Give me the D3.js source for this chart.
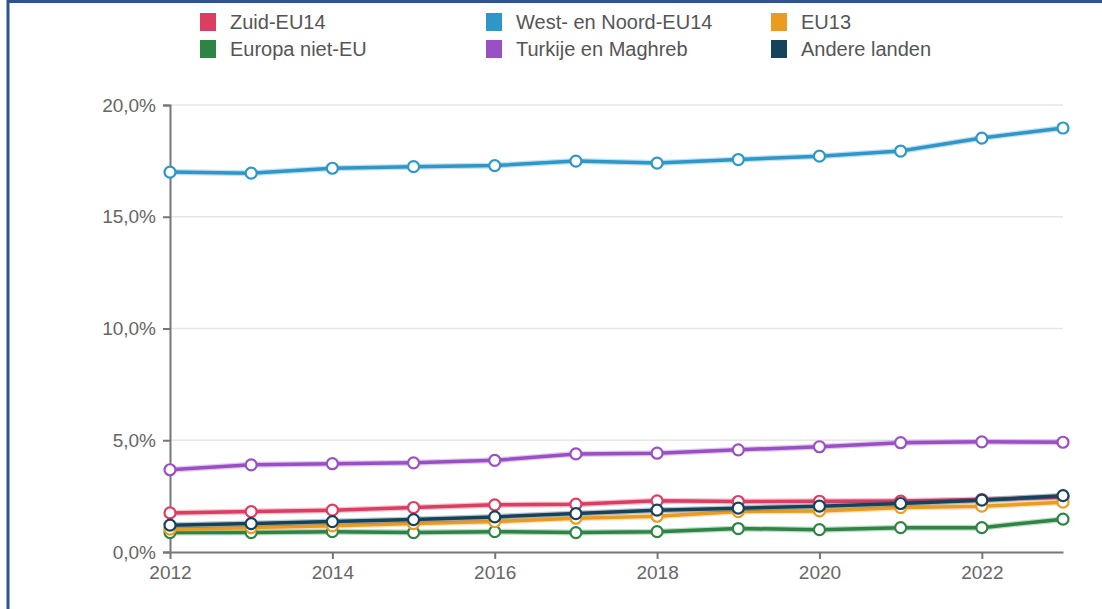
<!DOCTYPE html>
<html>
<head>
<meta charset="utf-8">
<script src="https://cdn.jsdelivr.net/npm/d3@7"></script>
<style>
  body { margin: 0; background: #fff; font-family: "Liberation Sans", Arial, sans-serif; }
  #chart { width: 1102px; height: 609px; overflow: hidden; }
</style>
</head>
<body>
<div id="chart"></div>
<script>
// data (percent)
const years = [2012, 2013, 2014, 2015, 2016, 2017, 2018, 2019, 2020, 2021, 2022, 2023]
const zuidEU14 = [1.75, 1.81, 1.87, 1.99, 2.11, 2.14, 2.29, 2.26, 2.27, 2.28, 2.35, 2.45]
const westNoordEU14 = [17.0, 16.95, 17.17, 17.24, 17.29, 17.49, 17.4, 17.56, 17.71, 17.94, 18.52, 18.97]
const eu13 = [1.02, 1.09, 1.17, 1.27, 1.36, 1.51, 1.6, 1.81, 1.84, 1.99, 2.05, 2.23]
const europaNietEU = [0.87, 0.87, 0.91, 0.87, 0.91, 0.87, 0.91, 1.05, 1.0, 1.09, 1.09, 1.47]
const turkijeMaghreb = [3.68, 3.9, 3.95, 3.99, 4.1, 4.39, 4.42, 4.57, 4.71, 4.89, 4.93, 4.91]
const andereLanden = [1.2, 1.27, 1.36, 1.45, 1.57, 1.72, 1.87, 1.96, 2.05, 2.17, 2.32, 2.52]
const yTicks = [0, 5, 10, 15, 20]
const xTicks = [2012, 2014, 2016, 2018, 2020, 2022]

const series = [
    { name: 'Zuid-EU14', values: zuidEU14, color: '#dc3d63' },
    { name: 'West- en Noord-EU14', values: westNoordEU14, color: '#2f97c7' },
    { name: 'EU13', values: eu13, color: '#eb9b20' },
    { name: 'Europa niet-EU', values: europaNietEU, color: '#2e8444' },
    { name: 'Turkije en Maghreb', values: turkijeMaghreb, color: '#9a50c5' },
    { name: 'Andere landen', values: andereLanden, color: '#16435c' }
]
// drawing order (last on top)
const drawOrder = ['Europa niet-EU', 'Zuid-EU14', 'EU13', 'Andere landen', 'Turkije en Maghreb', 'West- en Noord-EU14']

const width = 1102, height = 609
const margin = { top: 105, right: 39, bottom: 57, left: 170 }
const innerW = width - margin.left - margin.right,
    innerH = height - margin.top - margin.bottom

const svg = d3.select('#chart')
    .append('svg')
    .attr('width', width)
    .attr('height', height)

// frame round the chart (cut off right and bottom)
svg.append('rect')
    .attr('x', 8).attr('y', 1.5)
    .attr('width', 1200).attr('height', 700)
    .attr('fill', 'none')
    .attr('stroke', '#2c5491')
    .attr('stroke-width', 3)

const g = svg.append('g')
    .attr('transform', 'translate(' + margin.left + ',' + margin.top + ')')

const x = d3.scaleLinear()
    .domain([2012, 2023])
    .range([0, innerW])
const y = d3.scaleLinear()
    .domain([0, 20])
    .range([innerH, 0])

const fmt = d => d3.format('.1f')(d).replace('.', ',') + '%'

// grid
g.append('g')
    .selectAll('line')
    .data(yTicks.filter(d => d > 0))
    .enter()
    .append('line')
    .attr('x1', 0).attr('x2', innerW)
    .attr('y1', d => y(d)).attr('y2', d => y(d))
    .attr('stroke', '#e6e6e6')
    .attr('stroke-width', 1.5)

// axes
const yAxis = g.append('g')
    .call(d3.axisLeft(y).tickValues(yTicks).tickFormat(fmt).tickSize(7).tickPadding(7))
const xAxis = g.append('g')
    .attr('transform', 'translate(0,' + innerH + ')')
    .call(d3.axisBottom(x).tickValues(xTicks).tickFormat(d3.format('d')).tickSize(7).tickSizeOuter(0).tickPadding(7))

;[yAxis, xAxis].forEach(a => {
    a.selectAll('path, line').attr('stroke', '#777').attr('stroke-width', 2)
    a.selectAll('text').attr('fill', '#666').style('font-size', '19px')
        .style('font-family', '"Liberation Sans", Arial, sans-serif')
})

// lines
const line = d3.line()
    .x((d, i) => x(years[i]))
    .y(d => y(d))

drawOrder.forEach(name => {
    const s = series.find(d => d.name === name)
    const sg = g.append('g')
    sg.append('path')
        .datum(s.values)
        .attr('d', line)
        .attr('fill', 'none')
        .attr('stroke', s.color)
        .attr('stroke-opacity', 0.3)
        .attr('stroke-width', 6)
    sg.append('path')
        .datum(s.values)
        .attr('d', line)
        .attr('fill', 'none')
        .attr('stroke', s.color)
        .attr('stroke-width', 3.5)
    sg.selectAll('circle')
        .data(s.values)
        .enter()
        .append('circle')
        .attr('cx', (d, i) => x(years[i]))
        .attr('cy', d => y(d))
        .attr('r', 5.5)
        .attr('fill', '#fff')
        .attr('stroke', s.color)
        .attr('stroke-width', 2.2)
})

// legend
const legendCols = [200, 486, 771]
const legend = svg.append('g')
series.forEach((s, i) => {
    const lx = legendCols[i % 3], ly = 13 + Math.floor(i / 3) * 27
    legend.append('rect')
        .attr('x', lx).attr('y', ly)
        .attr('width', 16).attr('height', 18)
        .attr('fill', s.color)
    legend.append('text')
        .attr('x', lx + 30).attr('y', ly + 16)
        .attr('fill', '#555')
        .style('font-size', '20px')
        .text(s.name)
})
</script>
</body>
</html>
